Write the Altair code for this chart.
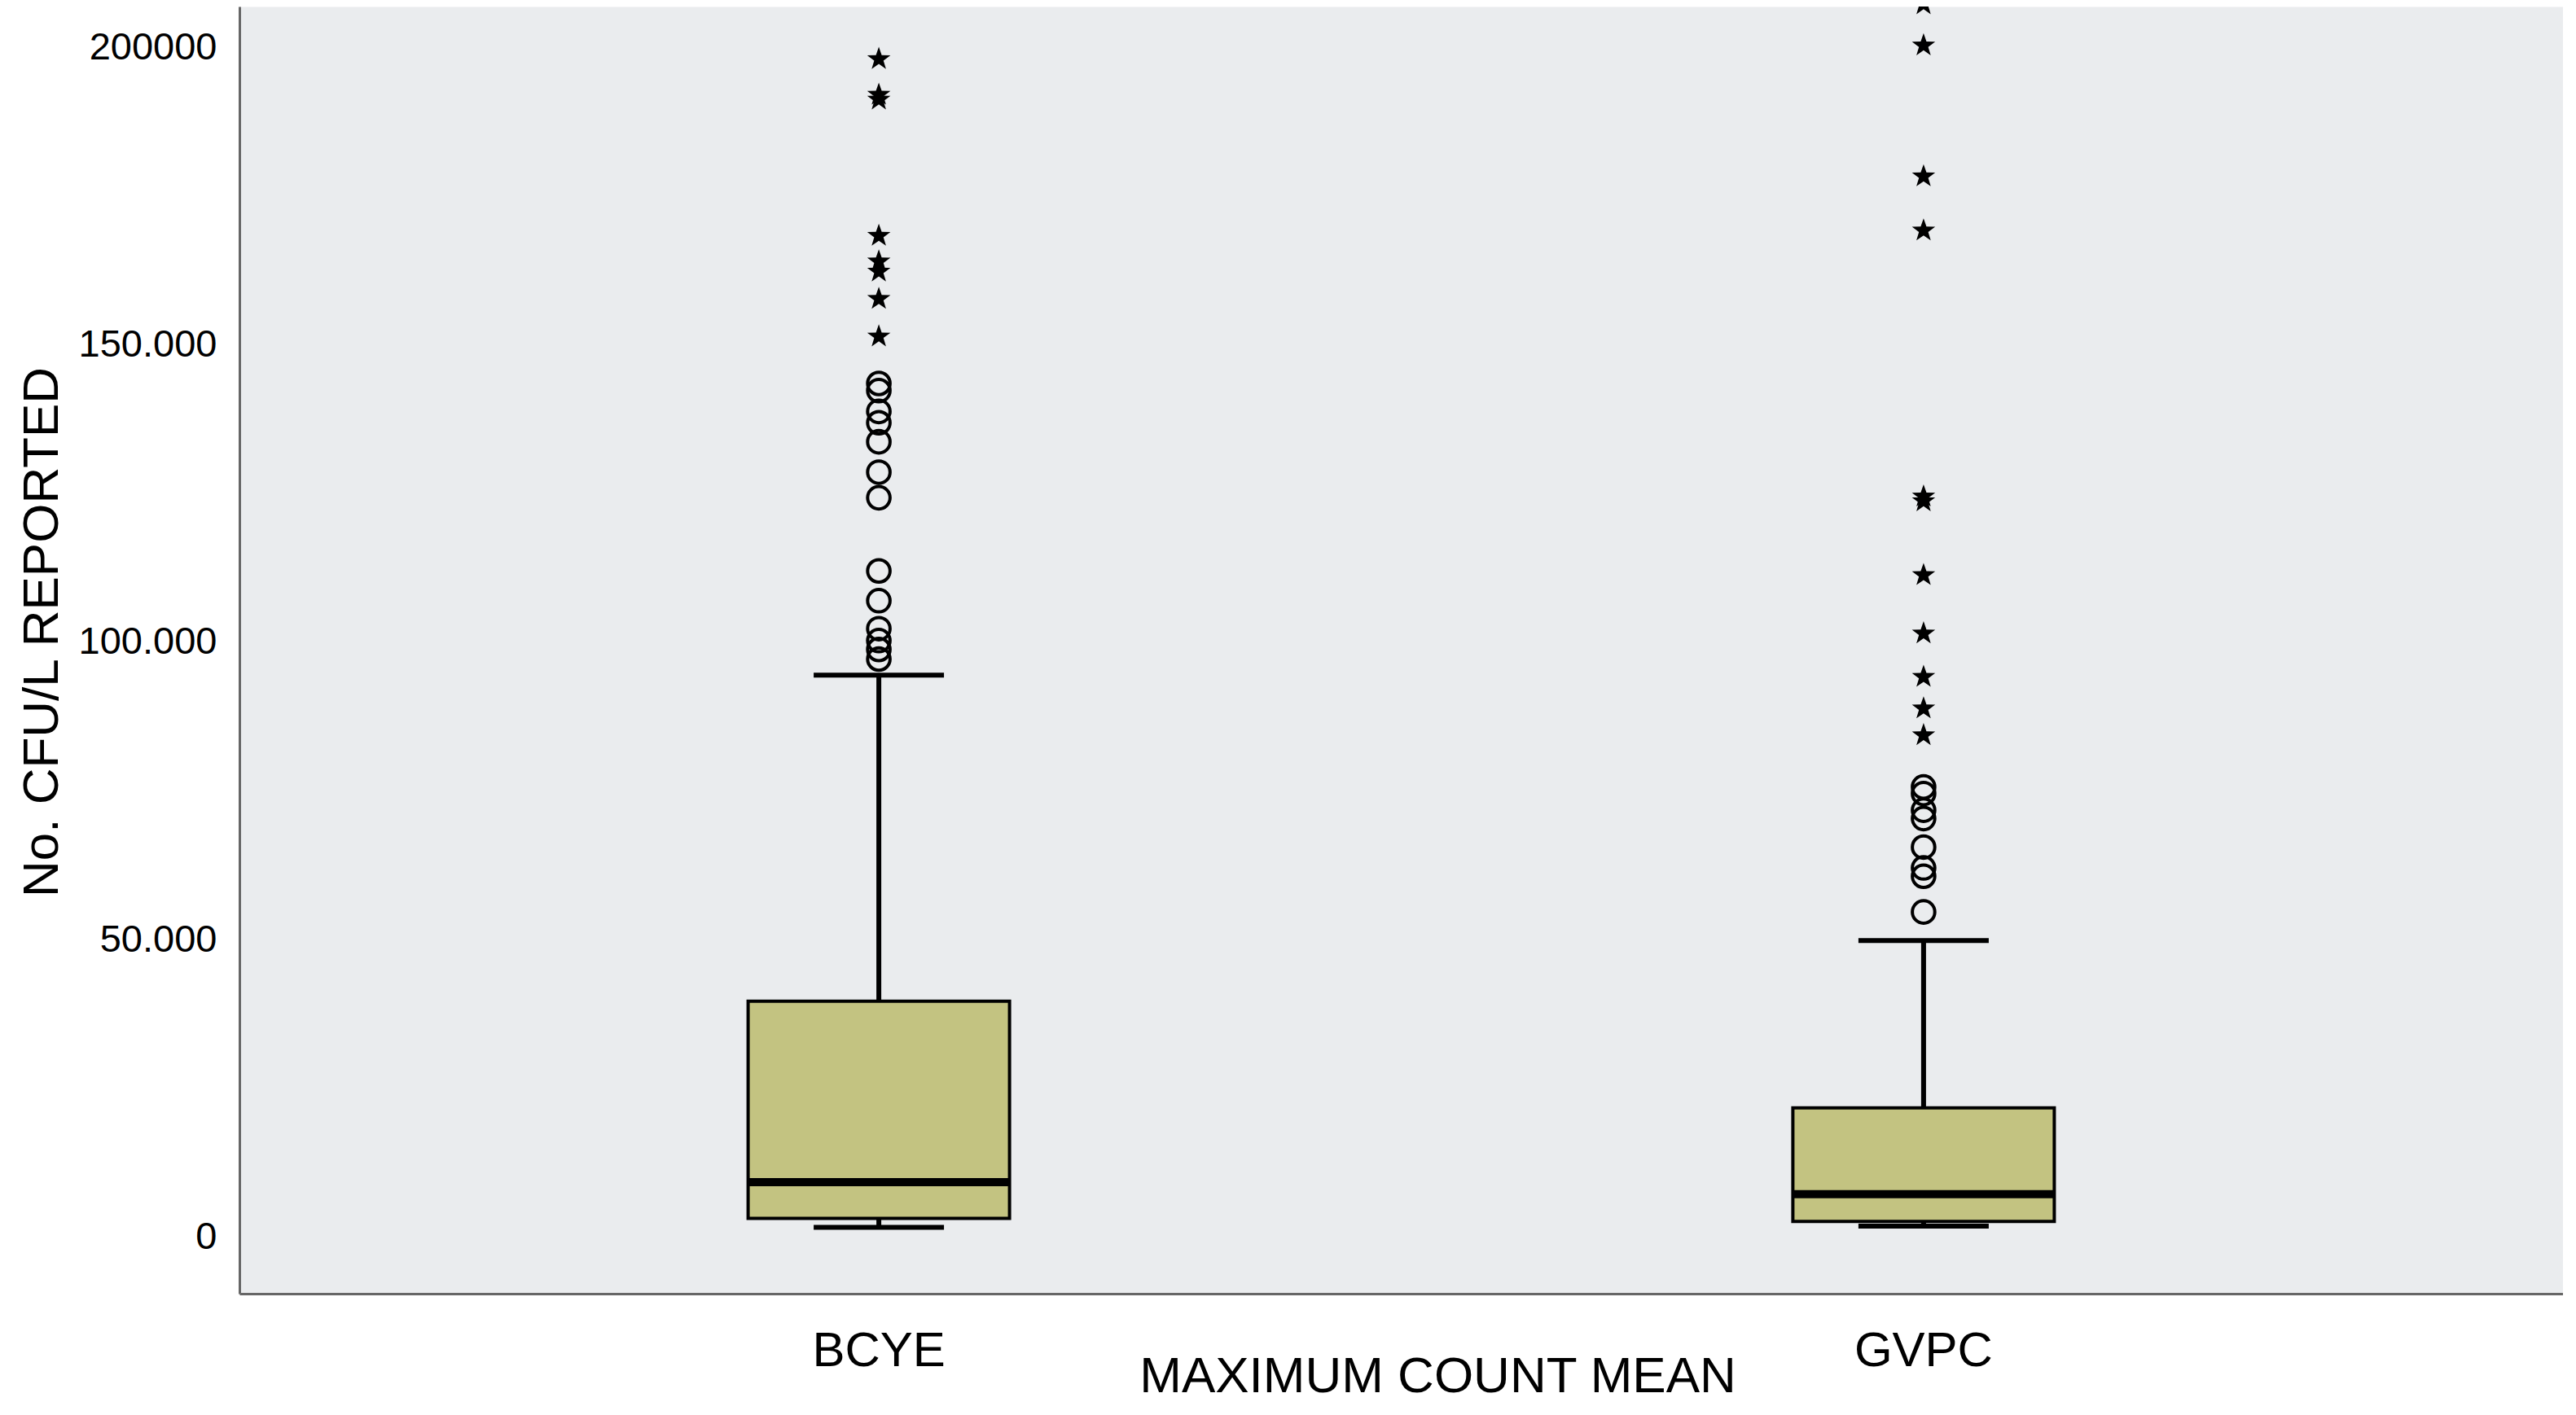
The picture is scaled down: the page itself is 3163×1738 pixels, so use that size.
import altair as alt
import pandas as pd

# ---------------- data ----------------
categories = ["BCYE", "GVPC"]
whisker_low = [1700, 1900]
q1 = [3200, 2700]
median = [9300, 7300]
q3 = [39700, 21800]
whisker_high = [94500, 49900]

# outliers (circles: 1.5-3 IQR, stars: > 3 IQR)
bcye_circles = [143500, 142300, 138800, 136900, 133700, 128600, 124300,
                112000, 107000, 102300, 100300, 98800, 97200]
bcye_stars = [198000, 192000, 191200, 168300, 164000, 162300, 157700, 151400]
gvpc_circles = [75700, 74600, 71800, 70400, 65600, 62100, 60700, 54700]
gvpc_stars = [207200, 200300, 178300, 169200, 124500, 123700, 111300,
              101500, 94200, 88900, 84400]

y_tick_values = [0, 50000, 100000, 150000, 200000]
y_tick_labels = ["0", "50.000", "100.000", "150.000", "200000"]

x_title = "MAXIMUM COUNT MEAN"
y_title = "No. CFU/L REPORTED"

# ---------------- tables ----------------
summary = pd.DataFrame({"group": categories, "lo": whisker_low, "q1": q1,
                        "med": median, "q3": q3, "hi": whisker_high})
circles = pd.DataFrame({
    "group": ["BCYE"] * len(bcye_circles) + ["GVPC"] * len(gvpc_circles),
    "value": bcye_circles + gvpc_circles})
stars = pd.DataFrame({
    "group": ["BCYE"] * len(bcye_stars) + ["GVPC"] * len(gvpc_stars),
    "value": bcye_stars + gvpc_stars})

label_expr = " : ".join(
    f"datum.value == {v} ? '{t}'" for v, t in zip(y_tick_values, y_tick_labels)
) + " : ''"

FONT = "Liberation Sans"
BOX_FILL = "#C3C381"

x_scale = alt.Scale(domain=categories, paddingInner=0, paddingOuter=0.112)
y_scale = alt.Scale(domain=[-9440, 206840], nice=False, zero=False)

x_axis = alt.Axis(title=x_title, labelAngle=0, labelFontSize=60,
                  labelBaseline="alphabetic", labelPadding=88,
                  titleFontSize=62, titleX=1471, titleY=120,
                  titleAlign="center", titleBaseline="alphabetic",
                  titleFontWeight="normal")
y_axis = alt.Axis(title=y_title, values=y_tick_values, labelExpr=label_expr,
                  labelFontSize=47, labelPadding=28, labelAlign="right",
                  titleFontSize=62, titleAngle=270, titleX=-224, titleY=768,
                  titleAlign="center", titleBaseline="alphabetic",
                  titleFontWeight="normal")


def X():
    return alt.X("group:N", scale=x_scale, axis=x_axis, sort=categories)


def Y(field):
    return alt.Y(f"{field}:Q", scale=y_scale, axis=y_axis)


base = alt.Chart(summary)

whisker = base.mark_rule(color="black", strokeWidth=6).encode(
    x=X(), y=Y("lo"), y2="hi:Q")
box = base.mark_bar(size=321, fill=BOX_FILL, stroke="black", strokeWidth=4).encode(
    x=X(), y=Y("q1"), y2="q3:Q")
med = base.mark_tick(size=323, thickness=10, color="black", opacity=1).encode(
    x=X(), y=Y("med"))
cap_hi = base.mark_tick(size=160, thickness=6, color="black", opacity=1).encode(
    x=X(), y=Y("hi"))
cap_lo = base.mark_tick(size=160, thickness=6, color="black", opacity=1).encode(
    x=X(), y=Y("lo"))

circ = alt.Chart(circles).mark_point(
    shape="circle", filled=False, size=760, stroke="black", strokeWidth=4,
    opacity=1).encode(x=X(), y=Y("value"))

STAR = ("M0,-1 L0.235,-0.324 L0.951,-0.309 L0.380,0.124 L0.588,0.809 "
        "L0,0.4 L-0.588,0.809 L-0.380,0.124 L-0.951,-0.309 L-0.235,-0.324 Z")
star = alt.Chart(stars).mark_point(
    shape=STAR, filled=True, size=900, fill="black", opacity=1,
    strokeWidth=0).encode(x=X(), y=Y("value"))

chart = alt.layer(whisker, box, med, cap_hi, cap_lo, circ, star).properties(
    width=2853, height=1581,
    autosize=alt.AutoSizeParams(type="none"),
    padding={"left": 286, "top": 0, "right": 0, "bottom": 135},
).configure_view(
    fill="#EAECEE", stroke="transparent"
).configure_axis(
    grid=False, ticks=False, tickSize=0, domainColor="#666666", domainWidth=3,
    labelFont=FONT, titleFont=FONT, labelColor="black", titleColor="black",
)

chart.save("out.html", embed_options={"renderer": "svg", "actions": False})
